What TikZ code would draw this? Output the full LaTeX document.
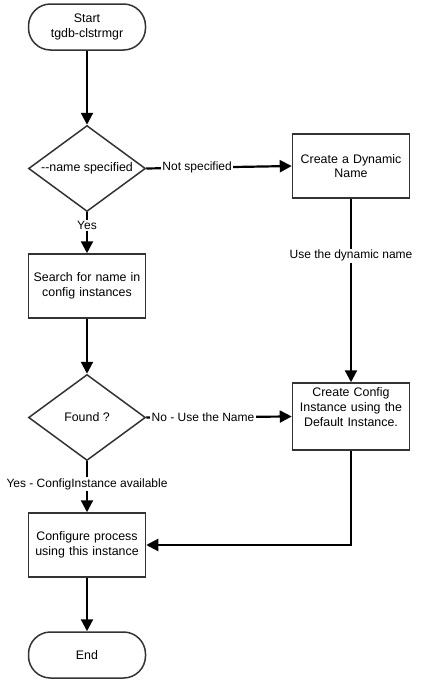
\documentclass[tikz,border=0pt]{standalone}
\usepackage{fontspec}
\setmainfont{Liberation Sans}
\usetikzlibrary{arrows.meta,shapes.geometric}
\begin{document}
\begin{tikzpicture}[x=1pt,y=-1pt,
  boxfont/.style={font=\fontsize{12.4}{14.8}\selectfont},
  box/.style={draw=black!80, line width=1.5pt, fill=white, minimum width=117pt, minimum height=64pt, inner sep=0pt, text width=117pt, align=center, boxfont},
  term/.style={box, rounded corners=22pt, minimum height=46pt},
  dec/.style={draw=black!80, line width=1.5pt, fill=white, shape=diamond, minimum width=117pt, minimum height=86pt, inner sep=0pt, boxfont},
  flow/.style={line width=2.2pt, -{Triangle[length=12pt,width=12pt]}},
  lbl/.style={fill=white, inner sep=1.5pt, font=\fontsize{12}{14}\selectfont}]
\useasboundingbox (0,0) rectangle (425,688);
\node[term] (start) at (87,27) {Start\\tgdb-clstrmgr};
\node[dec] (d1) at (87,168.5) {\makebox[0pt]{{-}{-}name specified}};
\node[box] (dyn) at (351,166) {Create a Dynamic\\Name};
\node[box] (search) at (87,286) {Search for name in\\config instances};
\node[dec] (d2) at (87,417.5) {\makebox[0pt]{Found ?}};
\node[box, minimum height=67pt] (cfg) at (351,416.5) {};
\node[anchor=north, text width=117pt, align=center, inner sep=0pt, boxfont] (cfgtext) at ([yshift=-5pt]cfg.north) {Create Config\\Instance using the\\Default Instance.};
\node[box] (conf) at (87,545) {Configure process\\using this instance};
\node[term] (end) at (87,655) {End};

\draw[flow] (start) -- (d1);
\draw[flow] (d1.east) -- node[lbl, pos=0.35] {Not specified} (dyn.west);
\draw[flow] (d1.south) -- node[lbl, pos=0.32] {Yes} (search.north);
\draw[flow] (dyn.south) -- node[lbl, pos=0.31] {Use the dynamic name} (cfg.north);
\draw[flow] (search) -- (d2);
\draw[flow] (d2.east) -- node[lbl, pos=0.39] {No - Use the Name} (cfg.west);
\draw[flow] (d2.south) -- node[lbl, pos=0.45] {Yes - ConfigInstance available} (conf.north);
\draw[flow] (cfg.south) |- (conf.east);
\draw[flow] (conf) -- (end);
\end{tikzpicture}
\end{document}
